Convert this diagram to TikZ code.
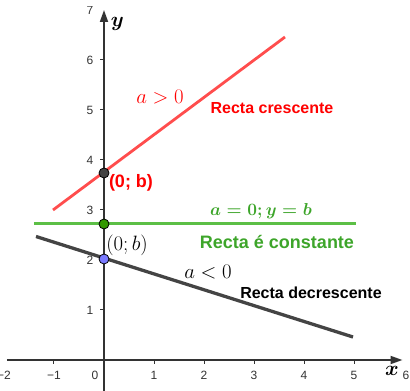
\documentclass[tikz,border=0pt]{standalone}
\usepackage{amsmath}
\usepackage{fontspec}
\setmainfont{Liberation Sans}
\usetikzlibrary{arrows.meta}
\definecolor{axisgray}{HTML}{333333}
\definecolor{linered}{HTML}{FF4D4D}
\definecolor{textred}{HTML}{FF0000}
\definecolor{linegreen}{HTML}{5CBF46}
\definecolor{textgreen}{HTML}{3DA52A}
\definecolor{ptgreen}{HTML}{339900}
\definecolor{linedark}{HTML}{444444}
\definecolor{ptblue}{HTML}{7A7AFF}
\tikzset{
  axisarrow/.style={draw=axisgray, line width=1.8pt, -{Triangle[length=12pt,width=8pt]}},
  tickmark/.style={draw=axisgray, line width=1pt},
  ticklabel/.style={font=\fontsize{12}{14}\selectfont, text=axisgray, inner sep=0pt},
  pt/.style={circle, draw=black, line width=0.8pt, minimum size=10pt, inner sep=0pt},
  sanslbl/.style={font=\fontsize{16}{19}\selectfont\bfseries, inner sep=0pt},
  biglbl/.style={font=\fontsize{18}{21}\selectfont\bfseries, inner sep=0pt},
  mathlbl/.style={font=\fontsize{20}{24}\selectfont, inner sep=0pt},
  greenmath/.style={font=\fontsize{18}{22}\selectfont, inner sep=0pt}
}
\begin{document}
\begin{tikzpicture}[x=50pt,y=50pt]
\useasboundingbox (-2.08,-0.62) rectangle (6.12,7.2);
% axes
\coordinate (xs) at (-1.94,0);
\coordinate (xe) at (5.97,0);
\coordinate (ys) at (0,-0.62);
\coordinate (ye) at (0,7.0);
\draw[axisarrow] (xs) -- (xe);
\draw[axisarrow] (ys) -- (ye);
% ticks
\foreach \i in {-1,1,2,3,4,5}{
  \draw[tickmark] (\i,0) -- (\i,-0.08);
}
\node[ticklabel] (xlm2) at (-2,-0.3) {−2};
\node[ticklabel] (xlm1) at (-1,-0.3) {−1};
\node[ticklabel] (xl1) at (1,-0.3) {1};
\node[ticklabel] (xl2) at (2,-0.3) {2};
\node[ticklabel] (xl3) at (3,-0.3) {3};
\node[ticklabel] (xl4) at (4,-0.3) {4};
\node[ticklabel] (xl5) at (5,-0.3) {5};
\node[ticklabel] (xl6) at (6.04,-0.3) {6};
\node[ticklabel] (xl0) at (-0.18,-0.3) {0};
\foreach \j in {1,2,3,4,5,6}{
  \draw[tickmark] (0,\j) -- (-0.08,\j);
  \node[ticklabel] at (-0.28,\j) {\j};
}
\begin{scope}
\clip (-1,6.0) rectangle (0,7.07);
\node[ticklabel] (yl7) at (-0.28,7.0) {7};
\end{scope}
\node[mathlbl] (ylab) at (0.27,6.72) {$\boldsymbol{y}$};
\node[mathlbl] (xlab) at (5.76,-0.22) {$\boldsymbol{x}$};
% lines
\coordinate (r1) at (-1.02,3.0);
\coordinate (r2) at (3.62,6.46);
\coordinate (g1) at (-1.4,2.72);
\coordinate (g2) at (5.04,2.72);
\coordinate (d1) at (-1.36,2.47);
\coordinate (d2) at (4.98,0.46);
\draw[linered, line width=2.8pt] (r1) -- (r2);
\draw[linegreen, line width=3pt] (g1) -- (g2);
\draw[linedark, line width=3.3pt] (d1) -- (d2);
% points
\node[pt, fill=linedark] (pr) at (0,3.74) {};
\node[pt, fill=ptgreen] (pg) at (0,2.72) {};
\node[pt, fill=ptblue] (pb) at (0,2.02) {};
% labels
\node[mathlbl, text=textred] (ag) at (1.12,5.26) {$a>0$};
\node[sanslbl, text=textred] (rc) at (3.36,5.04) {Recta crescente};
\node[biglbl, text=textred] (rb) at (0.54,3.54) {(0; b)};
\node[greenmath, text=textgreen] (ae) at (3.14,2.98) {$\boldsymbol{a=0;y=b}$};
\node[biglbl, text=textgreen] (rk) at (3.46,2.36) {Recta é constante};
\node[mathlbl] (bb) at (0.46,2.3) {$(0;b)$};
\node[mathlbl] (al) at (2.08,1.76) {$a<0$};
\node[sanslbl] (rd) at (4.14,1.34) {Recta decrescente};
\end{tikzpicture}
\end{document}
